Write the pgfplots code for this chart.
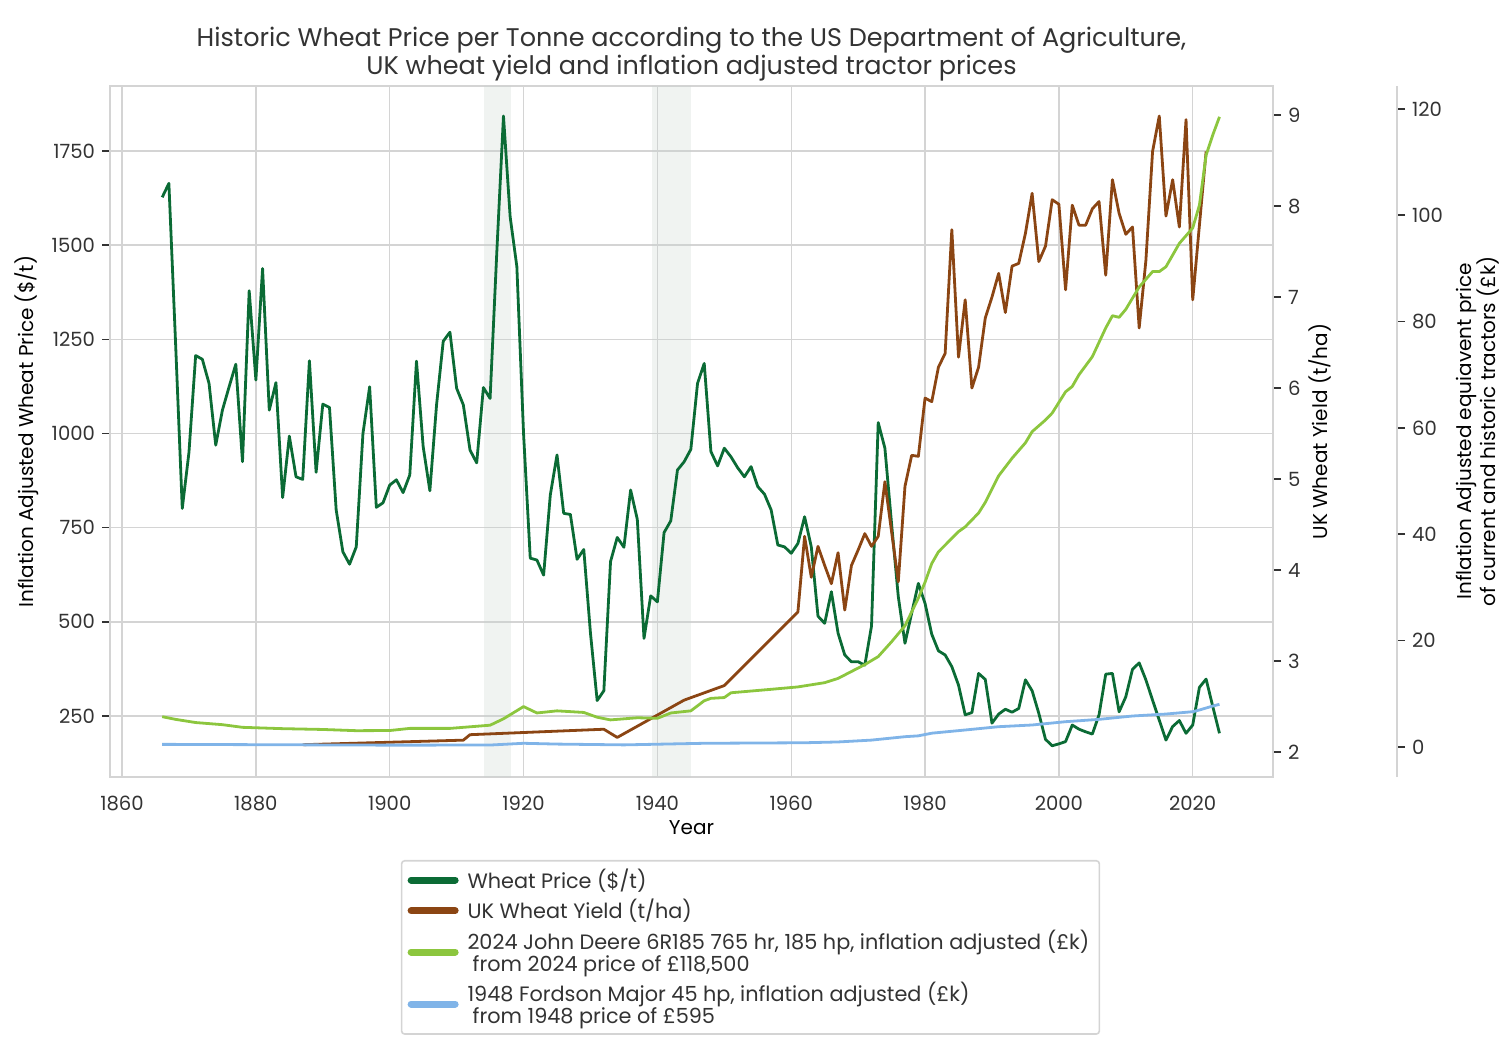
\documentclass[border=0pt]{standalone}
\usepackage{fontspec}
\setmainfont{Poppins}
\usepackage{pgfplots}
\pgfplotsset{compat=1.18}
\usepackage{pgfplotstable}
\definecolor{wheatgreen}{HTML}{0B6B35}
\definecolor{yieldbrown}{HTML}{8B4513}
\definecolor{jdgreen}{HTML}{8CC63E}
\definecolor{fordblue}{HTML}{80B4E8}
\definecolor{gridgray}{HTML}{D4D4D4}
\definecolor{textgray}{HTML}{333333}
\definecolor{shadegray}{HTML}{C8D2CD}

\pgfplotstableread{
year price
1866 1627
1867 1664
1868 1240
1869 801
1870 950
1871 1207
1872 1197
1873 1133
1874 969
1875 1062
1876 1124
1877 1184
1878 925
1879 1379
1880 1142
1881 1438
1882 1062
1883 1135
1884 830
1885 993
1886 885
1887 878
1888 1193
1889 897
1890 1078
1891 1069
1892 797
1893 686
1894 653
1895 699
1896 1000
1897 1124
1898 804
1899 816
1900 863
1901 877
1902 843
1903 890
1904 1192
1905 965
1906 848
1907 1076
1908 1245
1909 1269
1910 1120
1911 1076
1912 956
1913 922
1914 1122
1915 1093
1916 1480
1917 1843
1918 1575
1919 1443
1920 1000
1921 669
1922 664
1923 624
1924 837
1925 943
1926 788
1927 785
1928 666
1929 692
1930 470
1931 291
1932 317
1933 660
1934 724
1935 698
1936 850
1937 772
1938 456
1939 569
1940 553
1941 737
1942 768
1943 903
1944 925
1945 958
1946 1133
1947 1186
1948 952
1949 914
1950 961
1951 938
1952 909
1953 885
1954 912
1955 859
1956 839
1957 797
1958 704
1959 699
1960 682
1961 708
1962 779
1963 699
1964 515
1965 496
1966 580
1967 470
1968 412
1969 394
1970 394
1971 385
1972 489
1973 1029
1974 961
1975 760
1976 567
1977 443
1978 523
1979 602
1980 549
1981 467
1982 423
1983 412
1984 381
1985 332
1986 253
1987 259
1988 363
1989 347
1990 231
1991 255
1992 268
1993 260
1994 270
1995 346
1996 317
1997 257
1998 188
1999 171
2000 176
2001 182
2002 226
2003 215
2004 208
2005 202
2006 253
2007 361
2008 363
2009 261
2010 301
2011 374
2012 391
2013 346
2014 292
2015 239
2016 186
2017 222
2018 238
2019 204
2020 226
2021 326
2022 348
2023 275
2024 204
}\wheattable

\pgfplotstableread{
year yield
1887 2.08
1911 2.13
1912 2.19
1932 2.25
1934 2.16
1944 2.57
1950 2.73
1961 3.54
1962 4.37
1963 3.92
1964 4.26
1965 4.05
1966 3.85
1967 4.19
1968 3.56
1969 4.05
1970 4.22
1971 4.40
1972 4.26
1973 4.37
1974 4.97
1975 4.42
1976 3.87
1977 4.92
1978 5.26
1979 5.25
1980 5.89
1981 5.85
1982 6.23
1983 6.38
1984 7.74
1985 6.34
1986 6.97
1987 6.00
1988 6.23
1989 6.77
1990 7.00
1991 7.26
1992 6.83
1993 7.34
1994 7.37
1995 7.70
1996 8.14
1997 7.39
1998 7.56
1999 8.07
2000 8.02
2001 7.08
2002 8.01
2003 7.79
2004 7.79
2005 7.97
2006 8.05
2007 7.24
2008 8.29
2009 7.92
2010 7.69
2011 7.77
2012 6.66
2013 7.40
2014 8.60
2015 8.99
2016 7.89
2017 8.29
2018 7.77
2019 8.95
2020 6.97
2021 7.79
2022 8.60
}\yieldtable

\pgfplotstableread{
year jd
1866 5.7
1868 5.2
1871 4.6
1875 4.2
1878 3.7
1884 3.45
1890 3.3
1895 3.07
1900 3.1
1903 3.5
1909 3.5
1913 3.9
1915 4.1
1917 5.3
1920 7.6
1922 6.4
1925 6.8
1929 6.5
1931 5.6
1933 5.1
1937 5.5
1940 5.4
1942 6.4
1945 6.8
1947 8.7
1948 9.15
1950 9.3
1951 10.2
1957 10.85
1961 11.3
1965 12.1
1967 12.9
1969 14.2
1971 15.5
1973 17.0
1975 19.8
1977 22.8
1979 28.0
1980 31.0
1981 34.5
1982 36.7
1985 40.5
1986 41.4
1988 44.0
1989 46.0
1991 51.0
1993 54.3
1995 57.2
1996 59.3
1998 61.5
1999 62.8
2001 66.8
2002 67.8
2003 70.0
2005 73.4
2007 78.8
2008 81.1
2009 80.8
2010 82.3
2012 86.5
2014 89.4
2015 89.4
2016 90.3
2018 94.7
2020 97.6
2021 101.9
2022 111.3
2023 115.1
2024 118.5
}\jdtable

\pgfplotstableread{
year ford
1866 0.5
1900 0.35
1915 0.37
1920 0.7
1925 0.55
1935 0.4
1947 0.7
1962 0.8
1967 0.95
1972 1.3
1977 1.94
1979 2.1
1981 2.6
1986 3.2
1991 3.82
1996 4.14
2001 4.76
2006 5.2
2011 5.83
2016 6.2
2020 6.64
2021 6.96
2023 7.71
2024 8.03
}\fordtable

\newcommand{\tickfont}{\fontsize{9.8}{11}\selectfont}
\newcommand{\labfont}{\fontsize{9.5}{11.5}\selectfont}

\pgfplotsset{
  common/.style={
    at={(55pt,136.5pt)}, anchor=south west,
    scale only axis, width=581.5pt, height=345.5pt,
    xmin=1858.2, xmax=2032,
    tick align=outside, major tick length=4pt,
    axis line style={gridgray, line width=0.8pt},
    tick label style={font=\tickfont, text=textgray},
    label style={font=\labfont, text=textgray},
    /pgf/number format/1000 sep={},
    /pgf/number format/assume math mode=true,
  },
}

\begin{document}
\begin{tikzpicture}
\begin{axis}[common,
  ymin=88, ymax=1922.6,
  xtick={1860,1880,...,2020}, ytick={250,500,...,1750},
  ytick pos=left,
  grid=major, major grid style={gridgray, line width=0.7pt},
  xtick style={draw=none}, ytick style={draw=textgray, line width=0.8pt},
  xticklabel style={yshift=-2pt},
  xlabel={Year},
  every axis x label/.style={at={(axis description cs:0.5,-0.0738)}, anchor=center},
  ylabel={Inflation Adjusted Wheat Price (\$/t)},
  every axis y label/.style={at={(axis description cs:-0.0714,0.5)}, rotate=90, anchor=center},
  title={Historic Wheat Price per Tonne according to the US Department of Agriculture,\\UK wheat yield and inflation adjusted tractor prices},
  title style={align=center, font=\fontsize{12.75}{14}\selectfont, text=textgray, at={(0.5,1)}, anchor=south, yshift=-7pt},
  legend style={at={(0.5507,-0.1201)}, anchor=north, draw=gridgray, line width=0.8pt,
    rounded corners=1.5pt, fill=white, font=\fontsize{10.4}{10.8}\selectfont, text=textgray,
    cells={align=left}, row sep=0pt, inner xsep=3pt, inner ysep=2pt},
  legend cell align=left,
  legend image code/.code={\draw[#1, line width=3.5pt, line cap=round] (0pt,0pt) -- (22pt,0pt); \path (25.5pt,0pt);},
]
\addplot[draw=none, fill=shadegray, fill opacity=0.27, forget plot] coordinates {(1914.1,88) (1918.1,88) (1918.1,1922.6) (1914.1,1922.6)} \closedcycle;
\addplot[draw=none, fill=shadegray, fill opacity=0.27, forget plot] coordinates {(1939.2,88) (1945.0,88) (1945.0,1922.6) (1939.2,1922.6)} \closedcycle;
\addplot[wheatgreen, line width=1.4pt, line join=round] table[x=year, y=price] {\wheattable};
\addlegendentry{Wheat Price (\$/t)}
\addlegendimage{yieldbrown}
\addlegendentry{UK Wheat Yield (t/ha)}
\addlegendimage{jdgreen}
\addlegendentry{2024 John Deere 6R185 765 hr, 185 hp, inflation adjusted (£k)\\\hspace{0.25em}from 2024 price of £118,500}
\addlegendimage{fordblue}
\addlegendentry{1948 Fordson Major 45 hp, inflation adjusted (£k)\\\hspace{0.25em}from 1948 price of £595}
\end{axis}

\begin{axis}[common,
  ymin=1.725, ymax=9.32,
  axis x line=none, axis y line*=right,
  y axis line style={-},
  ytick={2,3,...,9},
  ytick style={draw=textgray, line width=0.8pt},
  ylabel={UK Wheat Yield (t/ha)},
  every axis y label/.style={at={(axis description cs:1.0404,0.5)}, rotate=90, anchor=center},
]
\addplot[yieldbrown, line width=1.4pt, line join=round] table[x=year, y=yield] {\yieldtable};
\end{axis}

\begin{axis}[common,
  ymin=-5.64, ymax=124.3,
  axis x line=none, axis y line*=right,
  axis y line shift=62pt,
  y axis line style={-},
  ytick={0,20,...,120},
  ytick style={draw=textgray, line width=0.8pt},
  ylabel={Inflation Adjusted equiavent price\\of current and historic tractors (£k)},
  every axis y label/.style={at={(axis description cs:1.1763,0.5)}, rotate=90, anchor=center, align=center},
]
\addplot[jdgreen, line width=1.4pt, line join=round] table[x=year, y=jd] {\jdtable};
\addplot[fordblue, line width=1.4pt, line join=round] table[x=year, y=ford] {\fordtable};
\end{axis}
\pgfresetboundingbox
\path[use as bounding box] (0,0) rectangle (751pt,525pt);
\end{tikzpicture}
\end{document}
